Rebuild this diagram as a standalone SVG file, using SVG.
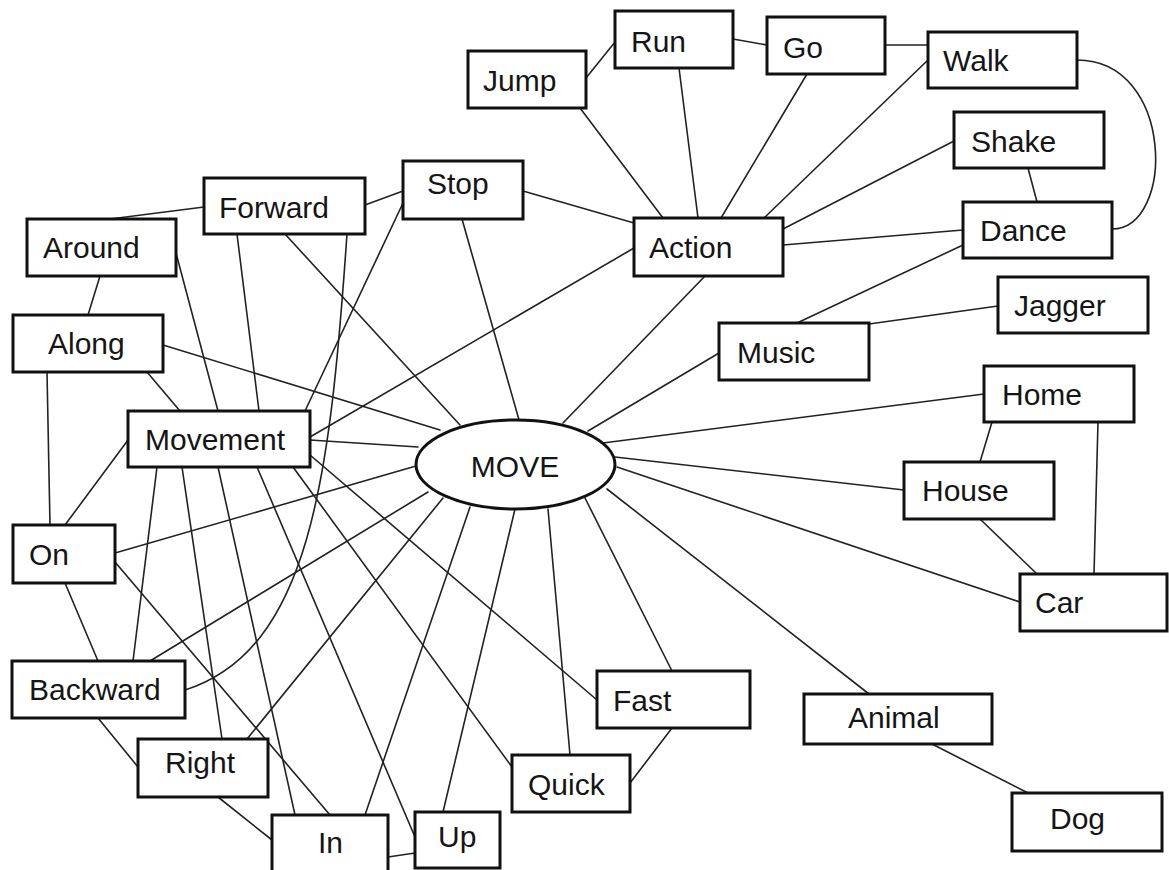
<svg xmlns="http://www.w3.org/2000/svg" width="1169" height="870" viewBox="0 0 1169 870">
  <style>
    .edge { fill: none; stroke: #222; stroke-width: 1.6; stroke-linecap: round; }
    .box { fill: #fff; stroke: #111; stroke-width: 3; }
    .hub { fill: #fff; stroke: #111; stroke-width: 3; }
    .label { font-family: "Liberation Sans", Arial, sans-serif; font-size: 30px; fill: #151515; }
  </style>
  <rect width="1169" height="870" fill="#fff"/>

  <g id="connectors">
    <line class="edge" x1="586" y1="78" x2="615" y2="42"/>
    <line class="edge" x1="733" y1="39" x2="767" y2="45"/>
    <line class="edge" x1="885" y1="45" x2="928" y2="45"/>
    <line class="edge" x1="580" y1="108" x2="663" y2="218"/>
    <line class="edge" x1="679" y1="68" x2="698" y2="218"/>
    <line class="edge" x1="807" y1="74" x2="721" y2="218"/>
    <line class="edge" x1="928" y1="60" x2="764" y2="218"/>
    <line class="edge" x1="954" y1="141" x2="783" y2="229"/>
    <line class="edge" x1="963" y1="230" x2="783" y2="245"/>
    <line class="edge" x1="1028" y1="168" x2="1037" y2="202"/>
    <path class="edge" d="M1077,60 C1175,60 1175,229 1112,229"/>
    <line class="edge" x1="963" y1="245" x2="797" y2="323"/>
    <line class="edge" x1="869" y1="324" x2="998" y2="306"/>
    <line class="edge" x1="523" y1="191" x2="634" y2="223"/>
    <line class="edge" x1="634" y1="248" x2="310" y2="437"/>
    <line class="edge" x1="705" y1="276" x2="563" y2="423"/>
    <line class="edge" x1="719" y1="353" x2="588" y2="431"/>
    <line class="edge" x1="462" y1="219" x2="521" y2="427"/>
    <line class="edge" x1="365" y1="205" x2="403" y2="191"/>
    <line class="edge" x1="204" y1="207" x2="110" y2="219"/>
    <line class="edge" x1="100" y1="276" x2="88" y2="315"/>
    <line class="edge" x1="285" y1="234" x2="460" y2="425"/>
    <line class="edge" x1="237" y1="234" x2="259" y2="411"/>
    <path class="edge" d="M347,234 C330,480 310,650 185,690"/>
    <line class="edge" x1="403" y1="203" x2="305" y2="411"/>
    <line class="edge" x1="176" y1="253" x2="218" y2="411"/>
    <line class="edge" x1="163" y1="345" x2="440" y2="430"/>
    <line class="edge" x1="147" y1="372" x2="180" y2="411"/>
    <line class="edge" x1="47" y1="372" x2="50" y2="525"/>
    <line class="edge" x1="310" y1="440" x2="418" y2="447"/>
    <line class="edge" x1="128" y1="440" x2="65" y2="525"/>
    <line class="edge" x1="157" y1="467" x2="133" y2="661"/>
    <line class="edge" x1="182" y1="467" x2="222" y2="739"/>
    <line class="edge" x1="218" y1="467" x2="295" y2="815"/>
    <line class="edge" x1="257" y1="467" x2="415" y2="837"/>
    <line class="edge" x1="293" y1="467" x2="512" y2="767"/>
    <line class="edge" x1="310" y1="455" x2="597" y2="700"/>
    <line class="edge" x1="115" y1="553" x2="416" y2="466"/>
    <line class="edge" x1="115" y1="562" x2="330" y2="815"/>
    <line class="edge" x1="65" y1="583" x2="98" y2="661"/>
    <line class="edge" x1="150" y1="661" x2="428" y2="492"/>
    <line class="edge" x1="98" y1="718" x2="138" y2="767"/>
    <line class="edge" x1="247" y1="739" x2="443" y2="498"/>
    <line class="edge" x1="218" y1="797" x2="272" y2="840"/>
    <line class="edge" x1="365" y1="815" x2="470" y2="507"/>
    <line class="edge" x1="388" y1="857" x2="415" y2="853"/>
    <line class="edge" x1="443" y1="812" x2="515" y2="509"/>
    <line class="edge" x1="570" y1="755" x2="548" y2="509"/>
    <line class="edge" x1="630" y1="783" x2="672" y2="728"/>
    <line class="edge" x1="672" y1="671" x2="585" y2="498"/>
    <line class="edge" x1="869" y1="694" x2="607" y2="489"/>
    <line class="edge" x1="932" y1="744" x2="1028" y2="793"/>
    <line class="edge" x1="1020" y1="602" x2="617" y2="467"/>
    <line class="edge" x1="1037" y1="574" x2="980" y2="519"/>
    <line class="edge" x1="1094" y1="574" x2="1098" y2="422"/>
    <line class="edge" x1="904" y1="490" x2="615" y2="457"/>
    <line class="edge" x1="980" y1="462" x2="992" y2="422"/>
    <line class="edge" x1="984" y1="394" x2="603" y2="443"/>
  </g>

  <g id="node-move">
    <ellipse class="hub" cx="515.5" cy="464.5" rx="99.5" ry="44.5"/>
    <text class="label" x="515" y="477" text-anchor="middle">MOVE</text>
  </g>
  <g id="node-jump"><rect class="box" x="468" y="51" width="118" height="57"/><text class="label" x="483" y="91">Jump</text></g>
  <g id="node-run"><rect class="box" x="615" y="11" width="118" height="57"/><text class="label" x="631" y="52">Run</text></g>
  <g id="node-go"><rect class="box" x="767" y="17" width="118" height="57"/><text class="label" x="783" y="58">Go</text></g>
  <g id="node-walk"><rect class="box" x="928" y="32" width="149" height="56"/><text class="label" x="943" y="71">Walk</text></g>
  <g id="node-shake"><rect class="box" x="954" y="112" width="150" height="56"/><text class="label" x="971" y="152">Shake</text></g>
  <g id="node-dance"><rect class="box" x="963" y="202" width="149" height="56"/><text class="label" x="980" y="241">Dance</text></g>
  <g id="node-stop"><rect class="box" x="403" y="161" width="120" height="58"/><text class="label" x="427" y="194">Stop</text></g>
  <g id="node-action"><rect class="box" x="634" y="218" width="149" height="58"/><text class="label" x="649" y="258">Action</text></g>
  <g id="node-forward"><rect class="box" x="204" y="178" width="161" height="56"/><text class="label" x="219" y="218">Forward</text></g>
  <g id="node-around"><rect class="box" x="27" y="219" width="149" height="57"/><text class="label" x="43" y="258">Around</text></g>
  <g id="node-along"><rect class="box" x="13" y="315" width="150" height="57"/><text class="label" x="48" y="354">Along</text></g>
  <g id="node-movement"><rect class="box" x="128" y="411" width="182" height="56"/><text class="label" x="145" y="450">Movement</text></g>
  <g id="node-jagger"><rect class="box" x="998" y="277" width="150" height="56"/><text class="label" x="1014" y="316">Jagger</text></g>
  <g id="node-music"><rect class="box" x="719" y="323" width="150" height="57"/><text class="label" x="737" y="363">Music</text></g>
  <g id="node-home"><rect class="box" x="984" y="366" width="150" height="56"/><text class="label" x="1002" y="405">Home</text></g>
  <g id="node-house"><rect class="box" x="904" y="462" width="150" height="57"/><text class="label" x="922" y="501">House</text></g>
  <g id="node-car"><rect class="box" x="1020" y="574" width="147" height="57"/><text class="label" x="1035" y="613">Car</text></g>
  <g id="node-animal"><rect class="box" x="804" y="694" width="188" height="50"/><text class="label" x="848" y="728">Animal</text></g>
  <g id="node-dog"><rect class="box" x="1012" y="793" width="150" height="58"/><text class="label" x="1050" y="829">Dog</text></g>
  <g id="node-fast"><rect class="box" x="597" y="671" width="153" height="57"/><text class="label" x="613" y="711">Fast</text></g>
  <g id="node-quick"><rect class="box" x="512" y="755" width="118" height="57"/><text class="label" x="528" y="795">Quick</text></g>
  <g id="node-up"><rect class="box" x="415" y="812" width="85" height="56"/><text class="label" x="438" y="847">Up</text></g>
  <g id="node-in"><rect class="box" x="272" y="815" width="116" height="62"/><text class="label" x="318" y="853">In</text></g>
  <g id="node-right"><rect class="box" x="138" y="739" width="130" height="58"/><text class="label" x="165" y="773">Right</text></g>
  <g id="node-backward"><rect class="box" x="12" y="661" width="173" height="57"/><text class="label" x="29" y="700">Backward</text></g>
  <g id="node-on"><rect class="box" x="13" y="525" width="102" height="58"/><text class="label" x="29" y="565">On</text></g>
</svg>
